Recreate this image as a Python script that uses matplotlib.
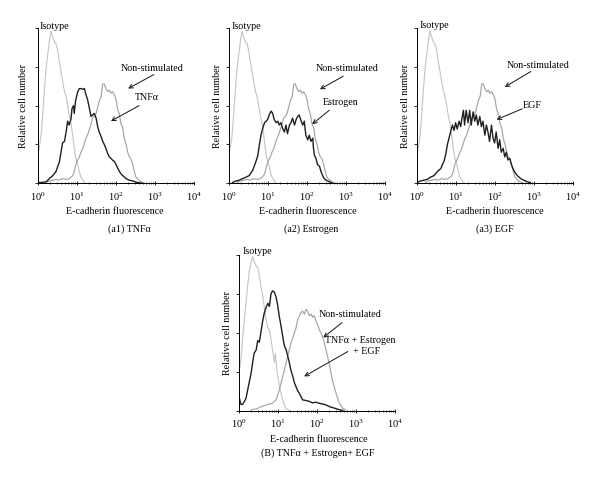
import numpy as np
import matplotlib.pyplot as plt
from matplotlib.ticker import LogLocator, NullFormatter

plt.rcParams['font.family'] = 'Liberation Serif'
plt.rcParams['mathtext.fontset'] = 'stix'

# histograms: (log10 fluorescence, % of max count)
isotype_ctrl = [(0.0, 19), (0.03, 22.5), (0.08, 31), (0.12, 44), (0.16, 59), (0.2, 72), (0.25, 83),
                (0.29, 91), (0.33, 98), (0.38, 94), (0.42, 91), (0.46, 90), (0.5, 86), (0.55, 78),
                (0.59, 72), (0.63, 66), (0.68, 59), (0.72, 56), (0.76, 50), (0.8, 44), (0.85, 38),
                (0.89, 31), (0.93, 22.5), (0.97, 16), (1.02, 12), (1.06, 7.5), (1.1, 4), (1.15, 2),
                (1.19, 0.6), (1.23, 0)]
nonstim_ctrl = [(0.21, 0.5), (0.29, 1.5), (0.38, 2), (0.46, 2.5), (0.55, 2), (0.63, 3), (0.72, 2.5),
                (0.8, 3), (0.85, 4), (0.89, 5), (0.93, 7.5), (0.97, 12), (1.02, 15), (1.06, 17),
                (1.1, 20), (1.15, 22.5), (1.19, 26), (1.23, 29), (1.27, 31), (1.32, 35), (1.36, 38),
                (1.4, 42), (1.44, 43), (1.49, 45), (1.53, 49), (1.57, 53), (1.62, 56), (1.66, 64),
                (1.7, 64), (1.74, 61), (1.79, 59), (1.83, 60), (1.87, 58), (1.91, 59), (1.96, 57),
                (2.0, 54), (2.04, 48), (2.09, 44), (2.13, 38), (2.17, 36), (2.21, 29), (2.26, 25),
                (2.3, 20), (2.34, 17), (2.38, 16), (2.43, 12), (2.47, 7.5), (2.51, 4), (2.56, 2.5),
                (2.64, 1), (2.73, 0)]
tnf = [(0.0, 0.5), (0.08, 0.5), (0.21, 1), (0.29, 3), (0.38, 5), (0.46, 7.5), (0.55, 14), (0.59, 20),
       (0.63, 26), (0.68, 27), (0.72, 33), (0.76, 40), (0.8, 37.5), (0.85, 42), (0.87, 48), (0.91, 50),
       (0.93, 45), (0.96, 52.5), (0.99, 56), (1.02, 59), (1.06, 61), (1.1, 61), (1.15, 60.5), (1.19, 61),
       (1.23, 57), (1.27, 54), (1.32, 48), (1.36, 43), (1.4, 44), (1.44, 45), (1.49, 42), (1.53, 36.5),
       (1.57, 33), (1.62, 30), (1.66, 27), (1.7, 25), (1.74, 22.5), (1.79, 19), (1.83, 17), (1.87, 16),
       (1.91, 15), (1.96, 14), (2.0, 12), (2.04, 10), (2.09, 7.5), (2.13, 6), (2.17, 5), (2.26, 3),
       (2.34, 2), (2.43, 1.5), (2.51, 0.7), (2.6, 0.3), (2.68, 0)]
estrogen = [(0.09, 0.5), (0.18, 1.5), (0.26, 2), (0.35, 3), (0.44, 4), (0.52, 5), (0.61, 8.5), (0.69, 14),
            (0.74, 18), (0.78, 25), (0.82, 31), (0.86, 35), (0.91, 39), (0.95, 40), (0.99, 41), (1.03, 44),
            (1.08, 46.5), (1.12, 45), (1.16, 41), (1.21, 39), (1.25, 40), (1.29, 37.5), (1.33, 39),
            (1.38, 35), (1.42, 33), (1.46, 37.5), (1.5, 32), (1.55, 37.5), (1.59, 39), (1.63, 42),
            (1.68, 37.5), (1.72, 41), (1.76, 43), (1.8, 44), (1.85, 40), (1.89, 37.5), (1.93, 40),
            (1.97, 31), (2.02, 28), (2.06, 31), (2.1, 27), (2.15, 29), (2.16, 24), (2.19, 18), (2.23, 16),
            (2.27, 12), (2.32, 11), (2.36, 7.5), (2.4, 5), (2.44, 3), (2.49, 2), (2.57, 1), (2.66, 0)]
egf = [(0.01, 0.6), (0.09, 1.5), (0.18, 2), (0.26, 2.5), (0.35, 4), (0.44, 5), (0.52, 7.5), (0.61, 9.5),
       (0.65, 12), (0.69, 14), (0.74, 19), (0.78, 25), (0.82, 29), (0.86, 33), (0.91, 37.5), (0.95, 34),
       (0.99, 39), (1.03, 35), (1.08, 40), (1.12, 36.5), (1.16, 43), (1.19, 47), (1.22, 37.5), (1.26, 47),
       (1.31, 39), (1.35, 47), (1.39, 37.5), (1.44, 46), (1.48, 40), (1.52, 44), (1.56, 37.5), (1.61, 43),
       (1.65, 36.5), (1.69, 40), (1.74, 31), (1.78, 37.5), (1.82, 33), (1.86, 27), (1.91, 37.5), (1.95, 29),
       (1.99, 26), (2.03, 33), (2.08, 22.5), (2.12, 28), (2.16, 20), (2.21, 22.5), (2.25, 17), (2.29, 20),
       (2.33, 15), (2.38, 16), (2.42, 12), (2.46, 9.5), (2.5, 7.5), (2.57, 5), (2.66, 3), (2.74, 2),
       (2.83, 1), (2.91, 0.4)]
isotype_b = [(0.0, 24), (0.05, 33), (0.09, 46), (0.14, 59), (0.18, 69), (0.22, 80), (0.26, 89), (0.31, 95),
             (0.35, 99), (0.39, 96), (0.44, 93), (0.48, 92), (0.52, 87), (0.56, 80), (0.61, 74), (0.65, 66),
             (0.69, 59), (0.74, 53), (0.78, 52), (0.82, 46), (0.86, 39), (0.91, 31), (0.93, 37), (0.97, 26),
             (1.02, 18), (1.08, 11), (1.12, 7), (1.16, 4), (1.2, 1.5), (1.29, 0)]
nonstim_b = [(0.3, 0), (0.36, 1), (0.44, 1), (0.52, 2), (0.61, 3), (0.69, 3.7), (0.78, 4.3), (0.86, 4.7),
             (0.95, 7), (0.99, 10), (1.03, 13), (1.08, 18), (1.12, 22), (1.16, 26), (1.21, 31), (1.25, 35),
             (1.29, 39), (1.33, 43.5), (1.38, 47), (1.42, 50), (1.46, 53), (1.5, 58), (1.55, 61), (1.59, 63),
             (1.63, 64), (1.68, 62), (1.72, 65), (1.76, 64), (1.8, 61), (1.85, 62), (1.89, 60), (1.93, 61),
             (1.97, 58), (2.02, 55), (2.06, 52), (2.1, 50), (2.15, 47), (2.19, 43.5), (2.23, 39), (2.27, 35),
             (2.32, 29.5), (2.36, 24), (2.4, 19), (2.44, 15.5), (2.49, 11), (2.53, 8), (2.57, 5), (2.62, 3),
             (2.66, 1.5), (2.74, 0.4)]
combo_b = [(0.0, 9), (0.03, 6), (0.05, 4), (0.09, 4), (0.14, 6), (0.18, 8), (0.22, 13), (0.26, 18),
           (0.31, 24), (0.35, 31), (0.39, 37), (0.44, 39), (0.48, 45), (0.52, 44), (0.56, 50), (0.61, 58),
           (0.65, 63), (0.69, 66), (0.74, 69), (0.78, 67), (0.82, 75), (0.86, 77), (0.91, 76), (0.95, 73),
           (0.99, 68), (1.03, 61), (1.08, 54), (1.12, 48), (1.16, 42), (1.21, 39), (1.25, 35), (1.29, 31),
           (1.33, 26), (1.38, 22), (1.42, 18), (1.46, 15.5), (1.5, 13), (1.55, 11), (1.59, 9), (1.63, 7),
           (1.72, 6.5), (1.8, 6), (1.89, 5), (1.97, 5.5), (2.06, 4.7), (2.15, 4.3), (2.23, 3.7), (2.32, 2.6),
           (2.4, 2), (2.49, 1.3), (2.57, 0.6), (2.66, 0.2)]

W, H = 600, 482
fig = plt.figure(figsize=(6, 4.82), dpi=100)


def px(x, y):
    return x / W, 1 - y / H


def panel(left, top, right, bottom, iso, ctrl, treat, notes, arrows):
    ax = fig.add_axes([left / W, 1 - bottom / H, (right - left) / W, (bottom - top) / H])
    for d, c, lw in ((iso, '#c6c6c6', 0.85), (ctrl, '#a4a4a4', 0.85), (treat, '#202020', 1.0)):
        d = np.array(d)
        ax.plot(10 ** d[:, 0], d[:, 1], color=c, lw=lw)
    ax.set_xscale('log')
    ax.set_xlim(1, 1e4)
    ax.set_ylim(0, 100)
    ax.set_xticks([1, 10, 100, 1000, 10000])
    ax.xaxis.set_minor_locator(LogLocator(base=10, subs=np.arange(2, 10), numticks=20))
    ax.xaxis.set_minor_formatter(NullFormatter())
    ax.set_yticks([0, 25, 50, 75, 100])
    ax.set_yticklabels([])
    ax.tick_params(axis='x', which='major', direction='inout', length=3, width=0.6, labelsize=7.5, pad=3.5)
    ax.tick_params(axis='x', which='minor', direction='inout', length=2, width=0.5)
    ax.tick_params(axis='y', direction='out', length=2.5, width=0.6)
    for s in ('top', 'right'):
        ax.spines[s].set_visible(False)
    for s in ('left', 'bottom'):
        ax.spines[s].set_linewidth(0.7)
    for txt, l, v in notes:
        ax.text(10 ** l, v, txt, fontsize=7.2, ha='center', va='center')
    for l0, v0, l1, v1 in arrows:
        ax.annotate('', xy=(10 ** l1, v1), xytext=(10 ** l0, v0),
                    arrowprops=dict(arrowstyle='->', lw=0.75, color='#202020',
                                    shrinkA=0, shrinkB=0, mutation_scale=7))
    return ax


panel(38, 28, 194, 183.3, isotype_ctrl, nonstim_ctrl, tnf,
      [('Non-stimulated', 2.92, 74), ('TNFα', 2.79, 55)],
      [(2.97, 70, 2.31, 61), (2.59, 50, 1.87, 40)])
panel(229, 28, 385, 183.3, isotype_ctrl, nonstim_ctrl, estrogen,
      [('Non-stimulated', 3.03, 74), ('Estrogen', 2.87, 52)],
      [(2.93, 69, 2.33, 60.5), (2.57, 47, 2.13, 38)])
panel(417, 28, 573, 183.3, isotype_ctrl, nonstim_ctrl, egf,
      [('Non-stimulated', 3.10, 76), ('EGF', 2.95, 50)],
      [(2.92, 72, 2.25, 62), (2.70, 48, 2.04, 41)])
panel(239, 255, 395, 410.7, isotype_b, nonstim_b, combo_b,
      [('Non-stimulated', 2.85, 61.5), ('TNFα + Estrogen', 3.1, 45), ('+ EGF', 3.27, 38)],
      [(2.64, 56.5, 2.16, 47), (2.79, 38, 1.67, 22)])

# panel labels
for x, y in ((40, 26.5), (232, 26.5), (420, 26), (243, 252)):
    fig.text(*px(x, y), 'Isotype', fontsize=7.2, ha='left', va='center')
for x, y in ((24, 105.7), (218, 105.7), (405, 105.7), (228, 333)):
    fig.text(*px(x, y), 'Relative cell number', fontsize=7.2, ha='center', va='center', rotation=90)
for x, y in ((115, 212), (307.5, 212), (495, 212), (318.5, 440)):
    fig.text(*px(x, y), 'E-cadherin fluorescence', fontsize=7.2, ha='center', va='center')
for x, y, s in ((129, 229, '(a1) TNFα'), (311.5, 229, '(a2) Estrogen'), (495, 229, '(a3) EGF'),
                (317.7, 453, '(B) TNFα + Estrogen+ EGF')):
    fig.text(*px(x, y), s, fontsize=7.2, ha='center', va='center')

fig.savefig('out.png', dpi=100)
